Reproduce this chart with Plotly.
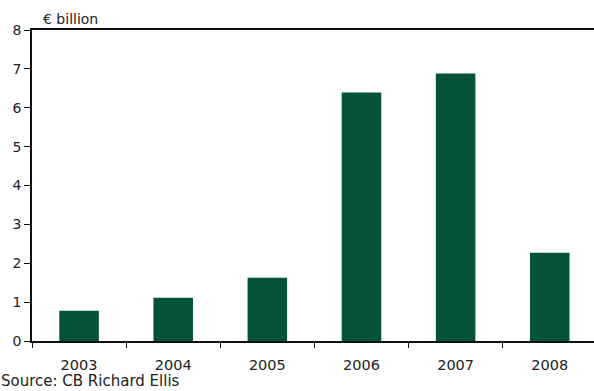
import plotly.graph_objects as go

years = ["2003", "2004", "2005", "2006", "2007", "2008"]
values = [0.78, 1.11, 1.63, 6.39, 6.88, 2.27]
y_ticks = [0, 1, 2, 3, 4, 5, 6, 7, 8]

FONT = "DejaVu Sans"
TXT = "#222222"
fig = go.Figure()
fig.add_trace(go.Bar(x=years, y=values, marker=dict(color="#04523A", line=dict(width=0)), width=0.42))

fig.update_layout(
    width=594, height=391,
    margin=dict(l=32, r=0, t=30, b=50),
    paper_bgcolor="white", plot_bgcolor="white",
    font=dict(family=FONT, size=14, color=TXT),
    showlegend=False,
)
fig.update_xaxes(
    type="category", range=[-0.5, 5.47],
    showline=True, linecolor="#111111", linewidth=1.5, mirror=True,
    ticks="outside", tickson="boundaries", ticklen=5, tickcolor="#111111", tickwidth=1,
    ticklabelstandoff=10,
    showgrid=False, tickfont=dict(family=FONT, size=14.5, color=TXT),
)
fig.update_yaxes(
    range=[0, 8], tickvals=y_ticks,
    showline=True, linecolor="#111111", linewidth=1.5,
    ticks="outside", ticklen=6, tickcolor="#111111", tickwidth=1,
    showgrid=False, zeroline=False, tickfont=dict(family=FONT, size=14, color=TXT),
)
fig.add_annotation(text="€ billion", xref="paper", yref="paper", x=0.016, y=1.0, yshift=1,
                   xanchor="left", yanchor="bottom", showarrow=False,
                   font=dict(family=FONT, size=14, color=TXT))
fig.add_annotation(text="Source: CB Richard Ellis", xref="paper", yref="paper", x=0, y=0,
                   xshift=-33, yshift=-51, xanchor="left", yanchor="bottom", showarrow=False,
                   font=dict(family=FONT, size=15, color=TXT))
fig.write_html("out.html")
